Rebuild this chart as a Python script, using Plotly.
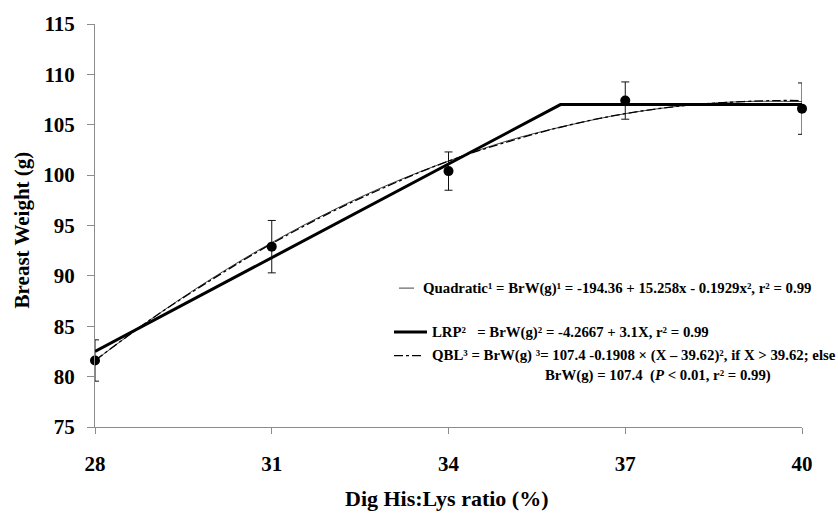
import plotly.graph_objects as go

# ---- data ----
his_lys = [28, 31, 34, 37, 40]
breast_weight = [81.6, 92.9, 100.4, 107.4, 106.6]
breast_sd = [2.05, 2.6, 1.9, 1.85, 2.55]

curve_x = [28, 29, 30, 31, 32, 33, 34, 35, 36, 37, 38, 39, 40]
quad_y = [81.6, 85.9, 89.8, 93.3, 96.4, 99.1, 101.4, 103.4, 104.9, 106.1, 106.9, 107.3, 107.3]
qbl_x = [28, 29, 30, 31, 32, 33, 34, 35, 36, 37, 38, 39, 39.6, 40]
qbl_y = [81.6, 85.9, 89.7, 93.2, 96.3, 99.0, 101.4, 103.3, 104.9, 106.1, 106.9, 107.3, 107.4, 107.4]
lrp_x = [28, 35.9, 40]
lrp_y = [82.5, 107.0, 107.0]

x_ticks = [28, 31, 34, 37, 40]
y_ticks = [75, 80, 85, 90, 95, 100, 105, 110, 115]

FONT = "Liberation Serif"

fig = go.Figure()
fig.add_trace(go.Scatter(x=curve_x, y=quad_y, mode="lines", line_shape="spline",
                         line=dict(color="#444444", width=1), showlegend=False))
fig.add_trace(go.Scatter(x=qbl_x, y=qbl_y, mode="lines", line_shape="spline",
                         line=dict(color="black", width=1.3, dash="dashdot"), showlegend=False))
fig.add_trace(go.Scatter(x=lrp_x, y=lrp_y, mode="lines",
                         line=dict(color="black", width=3), showlegend=False))
fig.add_trace(go.Scatter(x=his_lys, y=breast_weight, mode="markers",
                         marker=dict(color="black", size=10),
                         error_y=dict(type="data", array=breast_sd, visible=True,
                                      color="#111111", thickness=1, width=4),
                         cliponaxis=False, showlegend=False))

# layout geometry (pixels)
W, H = 838, 513
L, R, T, B = 95, 36, 15, 86
pw, ph = W - L - R, H - T - B

def px(xp):
    return (xp - L) / pw

def py(yp):
    return (H - B - yp) / ph

legend_font = dict(family=FONT, size=14.8, color="black")
notes = [
    (421, 285, "<b>Quadratic¹ = BrW(g)¹ = -194.36 + 15.258x - 0.1929x², r² = 0.99</b>"),
    (430, 330, "<b>LRP²\u00a0\u00a0\u00a0= BrW(g)² = -4.2667 + 3.1X, r² = 0.99</b>"),
    (430, 354, "<b>QBL³\u00a0= BrW(g) ³= 107.4 -0.1908 × (X – 39.62)², if X &gt; 39.62; else</b>"),
    (543, 374, "<b>BrW(g) = 107.4\u00a0\u00a0(<i>P</i> &lt; 0.01, r² = 0.99)</b>"),
]
annotations = [dict(x=px(a), y=py(b), xref="paper", yref="paper", text=t, showarrow=False,
                    xanchor="left", yanchor="middle", font=legend_font) for a, b, t in notes]

# axis titles
annotations.append(dict(x=px(22), y=py(226), xref="paper", yref="paper",
                        text="<b>Breast Weight (g)</b>", textangle=-90, showarrow=False,
                        xanchor="center", yanchor="middle",
                        font=dict(family=FONT, size=21, color="black")))
annotations.append(dict(x=px(447), y=py(500), xref="paper", yref="paper",
                        text="<b>Dig His:Lys ratio (%)</b>", showarrow=False,
                        xanchor="center", yanchor="middle",
                        font=dict(family=FONT, size=22, color="black")))

shapes = [
    dict(type="line", xref="paper", yref="paper", x0=px(399), x1=px(414), y0=py(285), y1=py(285),
         line=dict(color="#444444", width=1)),
    dict(type="line", xref="paper", yref="paper", x0=px(394), x1=px(427), y0=py(330), y1=py(330),
         line=dict(color="black", width=3)),
    dict(type="line", xref="paper", yref="paper", x0=px(394), x1=px(423), y0=py(354), y1=py(354),
         line=dict(color="black", width=1.3, dash="dashdot")),
]

fig.update_layout(
    width=W, height=H,
    margin=dict(l=L, r=R, t=T, b=B, pad=0),
    paper_bgcolor="white", plot_bgcolor="white",
    font=dict(family=FONT, color="black"),
    annotations=annotations, shapes=shapes,
    xaxis=dict(range=[28, 40], tickvals=x_ticks, ticktext=["<b>%d</b>" % v for v in x_ticks],
               showgrid=False, zeroline=False, showline=True, linecolor="#8c8c8c", linewidth=1,
               ticks="outside", ticklen=6, tickcolor="#8c8c8c",
               tickfont=dict(family=FONT, size=21, color="black"), ticklabelstandoff=12),
    yaxis=dict(range=[75, 115], tickvals=y_ticks, ticktext=["<b>%d</b>" % v for v in y_ticks],
               showgrid=False, zeroline=False, showline=True, linecolor="#8c8c8c", linewidth=1,
               ticks="outside", ticklen=7, tickcolor="#8c8c8c",
               tickfont=dict(family=FONT, size=21, color="black"), ticklabelstandoff=8),
)

fig.write_html("out.html")
